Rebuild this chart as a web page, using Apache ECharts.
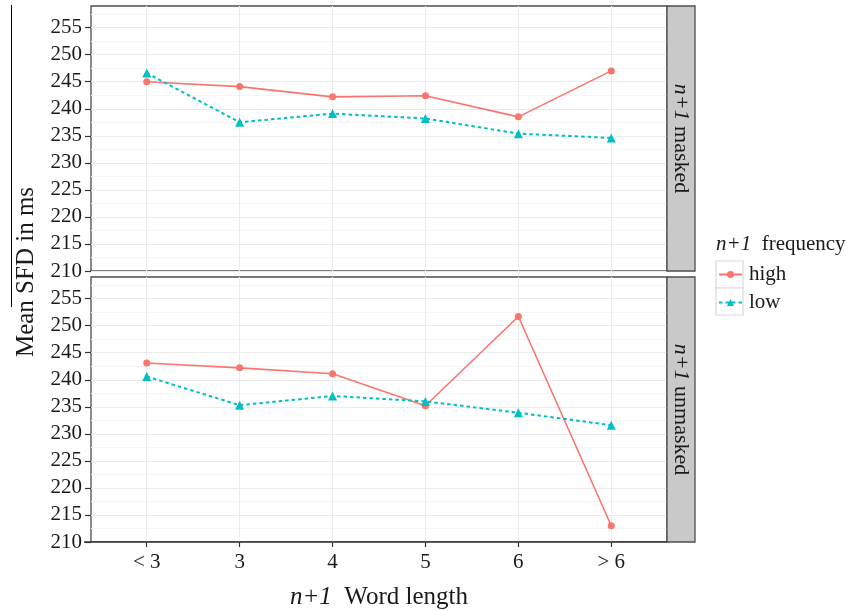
<!DOCTYPE html>
<html>
<head>
<meta charset="utf-8">
<script src="https://cdn.jsdelivr.net/npm/echarts@6/dist/echarts.min.js"></script>
<style>
  html, body { margin: 0; padding: 0; background: #fff; }
  #chart { width: 852px; height: 611px; }
</style>
</head>
<body>
<div id="chart"></div>
<script>
// word length categories (x axis)
const lengthLabels = ["< 3", "3", "4", "5", "6", "> 6"];
// mean SFD, n+1 masked panel
const maskedHigh = [245.0, 244.1, 242.2, 242.4, 238.5, 247.0];
const maskedLow = [246.6, 237.5, 239.1, 238.2, 235.4, 234.6];
// mean SFD, n+1 unmasked panel
const unmaskedHigh = [243.1, 242.2, 241.1, 235.2, 251.7, 213.0];
const unmaskedLow = [240.6, 235.3, 237.0, 236.0, 233.9, 231.6];
// y tick labels
const yTicks = [210, 215, 220, 225, 230, 235, 240, 245, 250, 255];

const SERIF = "Liberation Serif";
const HIGH = "#F8766D";
const LOW = "#00BFC4";
const catIdx = lengthLabels.map((_, i) => i);

const chart = echarts.init(document.getElementById("chart"));

const toPoints = (arr) => arr.map((v, i) => [i, v]);

const makeX = (gridIndex, showLabels) => ({
  type: "value",
  gridIndex: gridIndex,
  min: -0.6,
  max: 5.6,
  axisLine: { show: false, onZero: false },
  axisTick: {
    show: showLabels,
    customValues: catIdx,
    length: 5,
    lineStyle: { color: "#333", width: 1.2 },
  },
  axisLabel: {
    show: showLabels,
    customValues: catIdx,
    margin: 10,
    formatter: (v) => lengthLabels[Math.round(v)],
    fontFamily: SERIF,
    fontSize: 21,
    color: "#1a1a1a",
  },
  splitLine: { show: false },
});

const makeY = (gridIndex) => ({
  type: "value",
  gridIndex: gridIndex,
  min: yTicks[0],
  max: 259,
  interval: 5,
  axisLine: { show: false, onZero: false },
  axisTick: { show: true, customValues: yTicks, length: 6, lineStyle: { color: "#333", width: 1.2 } },
  axisLabel: {
    customValues: yTicks,
    margin: 9,
    fontFamily: SERIF,
    fontSize: 21,
    color: "#1a1a1a",
  },
  splitLine: { show: true, lineStyle: { color: "#ebebeb", width: 1 } },
  minorTick: { show: false, splitNumber: 2 },
  minorSplitLine: { show: true, lineStyle: { color: "#f5f5f5", width: 1 } },
});

const vGrid = {
  silent: true,
  symbol: "none",
  z: 1,
  label: { show: false },
  lineStyle: { color: "#ebebeb", width: 1, type: "solid" },
  data: catIdx.map((i) => ({ xAxis: i })),
};

const makeSeries = (name, data, gi, isHigh) => ({
  name: name,
  type: "line",
  xAxisIndex: gi,
  yAxisIndex: gi,
  data: toPoints(data),
  symbol: isHigh ? "circle" : "triangle",
  symbolSize: isHigh ? 7 : 9,
  color: isHigh ? HIGH : LOW,
  itemStyle: { color: isHigh ? HIGH : LOW },
  lineStyle: isHigh
    ? { color: HIGH, width: 1.6, type: "solid" }
    : { color: LOW, width: 2, type: [3.5, 3] },
  emphasis: { disabled: true },
  animation: false,
  z: 3,
  markLine: isHigh ? vGrid : undefined,
});

const stripText = (label, cy) => ({
  type: "text",
  x: 681,
  y: cy,
  rotation: -Math.PI / 2,
  style: {
    text: "{i|n+1} " + label,
    rich: { i: { fontStyle: "italic", fontFamily: SERIF, fontSize: 22, fill: "#1a1a1a" } },
    fontFamily: SERIF,
    fontSize: 22,
    fill: "#1a1a1a",
    align: "center",
    verticalAlign: "middle",
  },
  z: 10,
});

const option = {
  animation: false,
  backgroundColor: "#fff",
  grid: [
    { left: 91, top: 6, width: 576, height: 265, show: true, borderColor: "#4d4d4d", borderWidth: 1.3, backgroundColor: "#fff" },
    { left: 91, top: 277, width: 576, height: 265, show: true, borderColor: "#4d4d4d", borderWidth: 1.3, backgroundColor: "#fff" },
  ],
  xAxis: [makeX(0, false), makeX(1, true)],
  yAxis: [makeY(0), makeY(1)],
  legend: {
    data: ["high", "low"],
    orient: "vertical",
    left: 718,
    top: 264,
    padding: 0,
    itemWidth: 23,
    itemHeight: 9,
    itemGap: 7,
    selectedMode: false,
    textStyle: { fontFamily: SERIF, fontSize: 21, color: "#1a1a1a", padding: [0, 0, 0, 2] },
  },
  graphic: [
    // strips
    { type: "rect", shape: { x: 667, y: 6, width: 28, height: 265 }, style: { fill: "#c9c9c9", stroke: "#4d4d4d", lineWidth: 1.3 }, z: 5 },
    { type: "rect", shape: { x: 667, y: 277, width: 28, height: 265 }, style: { fill: "#c9c9c9", stroke: "#4d4d4d", lineWidth: 1.3 }, z: 5 },
    stripText("masked", 138.5),
    stripText("unmasked", 409.5),
    // bottom axis line extension
    { type: "line", shape: { x1: 84, y1: 542, x2: 667, y2: 542 }, style: { stroke: "#333", lineWidth: 1.3 }, z: 5 },
    // stray line left of y title
    { type: "line", shape: { x1: 11.5, y1: 5, x2: 11.5, y2: 307 }, style: { stroke: "#000", lineWidth: 1 }, z: 5 },
    // y axis title
    {
      type: "text",
      x: 26,
      y: 272,
      rotation: Math.PI / 2,
      style: { text: "Mean SFD in ms", fontFamily: SERIF, fontSize: 25, fill: "#1a1a1a", align: "center", verticalAlign: "middle" },
      z: 10,
    },
    // x axis title
    {
      type: "text",
      x: 379,
      y: 597,
      style: {
        text: "{i|n+1}  Word length",
        rich: { i: { fontStyle: "italic", fontFamily: SERIF, fontSize: 25, fill: "#1a1a1a" } },
        fontFamily: SERIF,
        fontSize: 25,
        fill: "#1a1a1a",
        align: "center",
        verticalAlign: "middle",
      },
      z: 10,
    },
    // legend title
    {
      type: "text",
      x: 716,
      y: 244,
      style: {
        text: "{i|n+1}  frequency",
        rich: { i: { fontStyle: "italic", fontFamily: SERIF, fontSize: 21, fill: "#1a1a1a" } },
        fontFamily: SERIF,
        fontSize: 21,
        fill: "#1a1a1a",
        align: "left",
        verticalAlign: "middle",
      },
      z: 10,
    },
    // legend key boxes
    { type: "rect", shape: { x: 716, y: 261, width: 27, height: 27 }, style: { fill: "#fff", stroke: "#d9d9d9", lineWidth: 1.2 }, z: 0 },
    { type: "rect", shape: { x: 716, y: 288, width: 27, height: 27 }, style: { fill: "#fff", stroke: "#d9d9d9", lineWidth: 1.2 }, z: 0 },
  ],
  series: [
    makeSeries("high", maskedHigh, 0, true),
    makeSeries("low", maskedLow, 0, false),
    makeSeries("high", unmaskedHigh, 1, true),
    makeSeries("low", unmaskedLow, 1, false),
  ],
};

chart.setOption(option);
window.addEventListener("resize", () => chart.resize());
</script>
</body>
</html>
